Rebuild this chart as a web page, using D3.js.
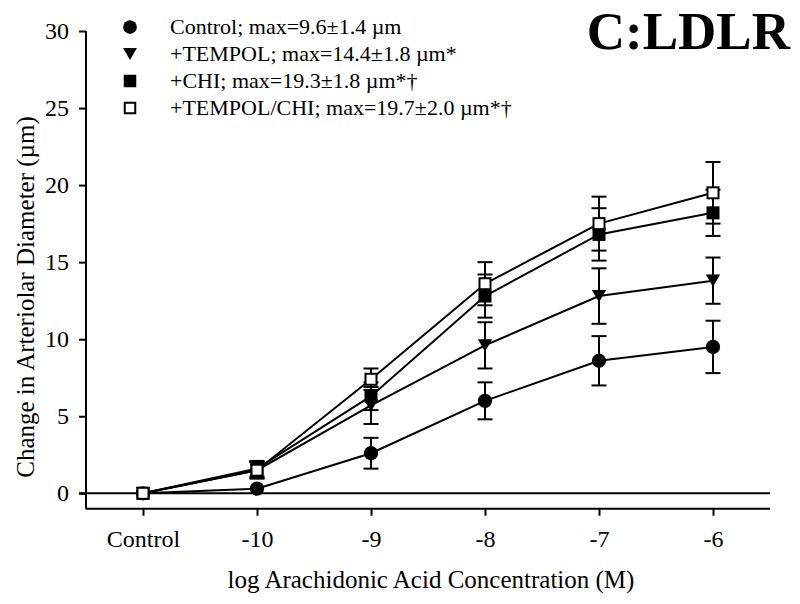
<!DOCTYPE html>
<html><head><meta charset="utf-8">
<script src="https://cdn.jsdelivr.net/npm/d3@7"></script>
<style>body{margin:0;background:#fff}svg{display:block}text{font-family:"Liberation Serif","Times New Roman",serif;fill:#000}</style>
</head><body>
<svg id="c" width="800" height="604"></svg>
<script>
const categories = ["Control", "-10", "-9", "-8", "-7", "-6"];
const yTicks = [0, 5, 10, 15, 20, 25, 30];
const seriesNames = ["Control; max=9.6\u00b11.4 \u00b5m", "+TEMPOL; max=14.4\u00b11.8 \u00b5m*", "+CHI; max=19.3\u00b11.8 \u00b5m*\u2020", "+TEMPOL/CHI; max=19.7\u00b12.0 \u00b5m*\u2020"];
const controlMean = [0, 0.3, 2.6, 6.0, 8.6, 9.5];
const controlSem  = [0, 0.2, 1.0, 1.2, 1.6, 1.7];
const tempolMean  = [0, 1.5, 5.7, 9.6, 12.8, 13.8];
const tempolSem   = [0, 0.5, 1.2, 1.5, 1.8, 1.5];
const chiMean     = [0, 1.6, 6.3, 12.8, 16.8, 18.2];
const chiSem      = [0, 0.5, 0.9, 1.4, 1.7, 1.5];
const tcMean      = [0, 1.5, 7.4, 13.6, 17.5, 19.5];
const tcSem       = [0, 0.55, 0.7, 1.4, 1.75, 2.0];
const shapes = ["circle", "triangle", "square", "open"];

const series = [
  {name: seriesNames[0], mean: controlMean, sem: controlSem, shape: shapes[0]},
  {name: seriesNames[1], mean: tempolMean, sem: tempolSem, shape: shapes[1]},
  {name: seriesNames[2], mean: chiMean, sem: chiSem, shape: shapes[2]},
  {name: seriesNames[3], mean: tcMean, sem: tcSem, shape: shapes[3]}
];

const svg = d3.select("#c");
const x = d3.scaleLinear().domain([-0.5, 5.5]).range([86, 770]);
const y = d3.scaleLinear().domain([0, 30]).range([493.3, 31]);
const yBottom = y(-1);

// axes
const yAxis = svg.append("g").attr("transform", "translate(86,0)")
  .call(d3.axisLeft(y).tickValues(yTicks).tickSize(7).tickPadding(10));
yAxis.select(".domain").remove();
yAxis.append("line").attr("x1",0).attr("x2",0).attr("y1",y(30)).attr("y2",yBottom).attr("stroke","#000").attr("stroke-width",2);
yAxis.selectAll(".tick line").attr("stroke","#000").attr("stroke-width",2);
yAxis.selectAll(".tick text").style("font-size","24px").attr("fill","#000");

const xAxis = svg.append("g").attr("transform", `translate(0,${yBottom})`)
  .call(d3.axisBottom(x).tickValues(d3.range(categories.length)).tickFormat(i => categories[i]).tickSize(7).tickPadding(14));
xAxis.select(".domain").remove();
xAxis.append("line").attr("x1",x(-0.5)).attr("x2",x(5.5)).attr("y1",0).attr("y2",0).attr("stroke","#000").attr("stroke-width",2);
xAxis.selectAll(".tick line").attr("stroke","#000").attr("stroke-width",2);
xAxis.selectAll(".tick text").style("font-size","24px").attr("fill","#000");

// zero line
svg.append("line").attr("x1",79).attr("x2",x(5.5)).attr("y1",y(0)).attr("y2",y(0)).attr("stroke","#000").attr("stroke-width",2);

// titles
svg.append("text").attr("x",431).attr("y",588).attr("text-anchor","middle").style("font-size","25px").text("log Arachidonic Acid Concentration (M)");
svg.append("text").attr("transform","translate(34,297) rotate(-90)").attr("text-anchor","middle").style("font-size","25px").text("Change in Arteriolar Diameter (\u00b5m)");
svg.append("text").attr("x",790).attr("y",49).attr("text-anchor","end").style("font-size","53px").style("font-weight","bold").text("C:LDLR");

function drawMarker(g, shape, cx, cy, s) {
  if (shape === "circle") {
    g.append("circle").attr("cx",cx).attr("cy",cy).attr("r",s*0.55).attr("fill","#000");
  } else if (shape === "triangle") {
    const h = s*0.95, w = s*1.1;
    g.append("path").attr("d",`M${cx-w/2},${cy-h/2}L${cx+w/2},${cy-h/2}L${cx},${cy+h/2}Z`).attr("fill","#000");
  } else if (shape === "square") {
    g.append("rect").attr("x",cx-s/2).attr("y",cy-s/2).attr("width",s).attr("height",s).attr("fill","#000");
  } else {
    g.append("rect").attr("x",cx-s/2+1).attr("y",cy-s/2+1).attr("width",s-2).attr("height",s-2).attr("fill","#fff").attr("stroke","#000").attr("stroke-width",2);
  }
}

const line = d3.line().x((d,i) => x(i)).y(d => y(d));
series.forEach(s => {
  svg.append("path").attr("d", line(s.mean)).attr("fill","none").attr("stroke","#000").attr("stroke-width",2);
});
series.forEach(s => {
  const g = svg.append("g");
  s.mean.forEach((m, i) => {
    if (s.sem[i] > 0.3) {
      const cx = x(i);
      g.append("line").attr("x1",cx).attr("x2",cx).attr("y1",y(m+s.sem[i])).attr("y2",y(m-s.sem[i])).attr("stroke","#000").attr("stroke-width",2);
      [m+s.sem[i], m-s.sem[i]].forEach(v => g.append("line").attr("x1",cx-7.5).attr("x2",cx+7.5).attr("y1",y(v)).attr("y2",y(v)).attr("stroke","#000").attr("stroke-width",2));
    }
  });
});
series.forEach(s => {
  const g = svg.append("g");
  s.mean.forEach((m, i) => drawMarker(g, s.shape, x(i), y(m), 13));
});

// legend
const legend = svg.append("g");
series.forEach((s, k) => {
  const ly = 27 + k*27;
  drawMarker(legend, s.shape, 130, ly, 12.5);
  legend.append("text").attr("x",170).attr("y",ly+7).style("font-size","22px").text(s.name);
});
</script>
</body></html>
